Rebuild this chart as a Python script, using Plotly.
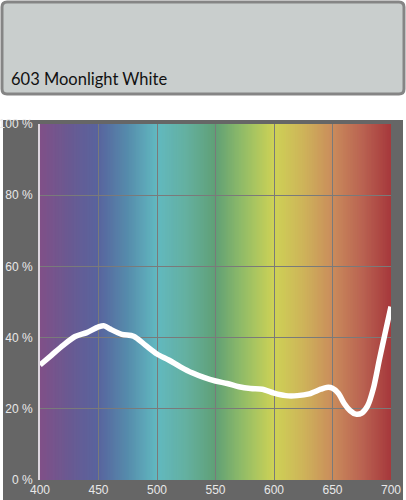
import numpy as np
import plotly.graph_objects as go

# transmission curve
wavelength = [400, 410, 420, 430, 440, 450, 455, 460, 470, 480, 490, 500, 510, 520, 530, 540,
              550, 560, 570, 580, 590, 600, 610, 620, 630, 640, 645, 650, 655, 660, 665, 670,
              675, 680, 685, 690, 695, 700]
transmission = [32.3, 35.1, 37.9, 40.3, 41.4, 43.0, 43.3, 42.4, 40.9, 40.4, 37.9, 35.4, 33.7,
                31.8, 30.1, 28.8, 27.8, 27.1, 26.2, 25.7, 25.5, 24.4, 23.7, 23.7, 24.2, 25.5,
                26.0, 25.8, 24.4, 21.5, 19.5, 18.5, 18.8, 20.8, 25.8, 33.7, 41.3, 48.7]

# spectrum backdrop colour stops
spec_nm = [400, 425, 450, 475, 500, 525, 550, 575, 600, 625, 650, 675, 700]
spec_rgb = [(128, 80, 136), (106, 90, 146), (88, 100, 158), (86, 140, 172), (98, 185, 192),
            (100, 176, 160), (96, 160, 118), (150, 190, 102), (206, 210, 86), (206, 180, 90),
            (202, 140, 92), (186, 100, 82), (166, 56, 60)]

x_ticks = [400, 450, 500, 550, 600, 650, 700]
y_ticks = [0, 20, 40, 60, 80, 100]
y_labels = ['0 %', '20 %', '40 %', '60 %', '80 %', '100 %']
title = '603 Moonlight White'

W, H = 406, 500
L, R, T, B = 40, 391, 124, 480  # plot area in pixels


def px(x):
    return (x - L) / (R - L)


def py(y):
    return (B - y) / (B - T)


shapes = []
# dark panel behind the chart
shapes.append(dict(type='rect', xref='paper', yref='paper', x0=px(3), x1=px(403),
                   y0=py(500), y1=py(120), fillcolor='#666666', line_width=0, layer='below'))
# swatch box with rounded corners
x0, x1, y0, y1, r = px(2), px(404), py(94), py(2), 5
rx, ry = r / (R - L), r / (B - T)
path = (f'M {x0+rx},{y1} L {x1-rx},{y1} Q {x1},{y1} {x1},{y1-ry} L {x1},{y0+ry} '
        f'Q {x1},{y0} {x1-rx},{y0} L {x0+rx},{y0} Q {x0},{y0} {x0},{y0+ry} '
        f'L {x0},{y1-ry} Q {x0},{y1} {x0+rx},{y1} Z')
shapes.append(dict(type='path', xref='paper', yref='paper', path=path, fillcolor='#c9cecd',
                   line=dict(color='#858585', width=3), layer='below'))

# spectrum gradient, 1 nm strips overlapping so no seams show (drawn below the grid)
edges = np.arange(400, 701, 1)
for a, b in zip(edges[:-1], edges[1:]):
    m = (a + b) / 2
    c = [int(round(np.interp(m, spec_nm, [s[i] for s in spec_rgb]))) for i in range(3)]
    shapes.append(dict(type='rect', xref='x', yref='y', x0=a, x1=min(b + 1.5, 700), y0=0, y1=100,
                       fillcolor='rgb({},{},{})'.format(*c), line_width=0, layer='below'))

fig = go.Figure()
fig.add_trace(go.Scatter(x=wavelength, y=transmission, mode='lines',
                         line=dict(color='white', width=5.5, shape='spline', smoothing=0.8),
                         hoverinfo='skip', showlegend=False))

fig.add_annotation(text=title, xref='paper', yref='paper', x=px(9), y=py(79),
                   xanchor='left', yanchor='middle', showarrow=False,
                   font=dict(family='Lato, Open Sans, sans-serif', size=16.5, color='#111111'))

fig.update_layout(
    width=W, height=H,
    margin=dict(l=L, r=W - R, t=T, b=H - B, pad=0),
    paper_bgcolor='white', plot_bgcolor='#666666',
    shapes=shapes,
    showlegend=False,
    font=dict(family='Liberation Sans, Arial, sans-serif', size=12, color='#e8e8e8'),
    xaxis=dict(range=[400, 700], tickvals=x_ticks, showgrid=True, gridcolor='#7a7a7a',
               gridwidth=1, zeroline=False, showline=False, ticks='', ticklabelstandoff=1,
               automargin=False, tickfont=dict(size=12, color='#e8e8e8')),
    yaxis=dict(range=[0, 100], tickvals=y_ticks, ticktext=y_labels, showgrid=True,
               gridcolor='#7a7a7a', gridwidth=1, zeroline=False, showline=True,
               linecolor='#ddd6de', linewidth=2, ticks='', ticklabelstandoff=3,
               automargin=False, tickfont=dict(size=12, color='#e8e8e8')),
)

# drop the page's default body margin so the figure sits at the window's corner
fig.write_html('out.html', config={'displayModeBar': False},
               post_script="document.body.style.margin='0';")
